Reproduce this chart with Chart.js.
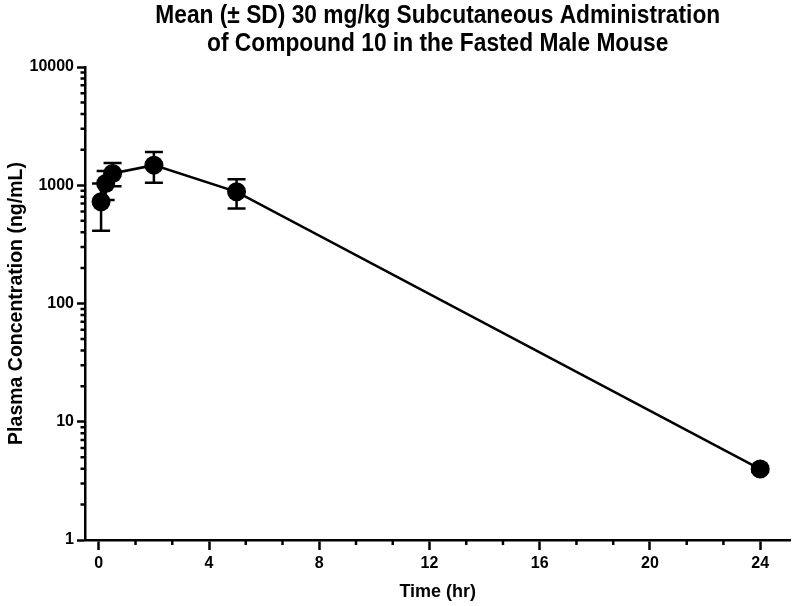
<!DOCTYPE html>
<html>
<head>
<meta charset="utf-8">
<script src="https://cdn.jsdelivr.net/npm/chart.js@4.4.1/dist/chart.umd.min.js"></script>
<style>
  html, body { margin: 0; padding: 0; background: #fff; }
  canvas { display: block; }
</style>
</head>
<body>
<canvas id="c" width="800" height="606"></canvas>
<script>
// ---- data ----
const timeHr = [0.083, 0.25, 0.5, 2, 5, 24];
const meanConc = [724, 1036, 1259, 1479, 880, 3.98];
const sdConc = [312, 285, 280, 430, 245, 0.2];
const xMajorTicks = [0, 4, 8, 12, 16, 20, 24];
const yMajorTicks = [1, 10, 100, 1000, 10000];
const titleLines = ['Mean (\u00B1 SD) 30 mg/kg Subcutaneous Administration', 'of Compound 10 in the Fasted Male Mouse'];

const FONT = '"Liberation Sans", Arial, Helvetica, sans-serif';

const titlePlugin = {
  id: 'customTitle',
  afterDraw(chart) {
    const ctx = chart.ctx;
    const a = chart.chartArea;
    const cx = (a.left + a.right) / 2;
    const sx = 0.91;
    ctx.save();
    ctx.fillStyle = '#000';
    ctx.font = 'bold 25px ' + FONT;
    ctx.textAlign = 'center';
    ctx.textBaseline = 'middle';
    ctx.translate(cx, 0);
    ctx.scale(sx, 1);
    ctx.fillText(titleLines[0], 0, 16);
    ctx.fillText(titleLines[1], 0, 44);
    ctx.restore();
  }
};

const minorTicksPlugin = {
  id: 'minorTicks',
  afterDraw(chart) {
    const ctx = chart.ctx;
    const xs = chart.scales.x, ys = chart.scales.y;
    const a = chart.chartArea;
    ctx.save();
    ctx.strokeStyle = '#000';
    ctx.lineWidth = 2.5;
    ctx.lineCap = 'butt';
    ctx.beginPath();
    for (let d = 1; d < 10000; d *= 10) {
      for (let m = 2; m <= 9; m++) {
        const py = ys.getPixelForValue(d * m);
        ctx.moveTo(a.left - 4.5, py);
        ctx.lineTo(a.left, py);
      }
    }
    for (let i = 0; i < xMajorTicks.length - 1; i++) {
      const step = (xMajorTicks[i + 1] - xMajorTicks[i]) / 3;
      for (let k = 1; k <= 2; k++) {
        const px = xs.getPixelForValue(xMajorTicks[i] + k * step);
        ctx.moveTo(px, a.bottom);
        ctx.lineTo(px, a.bottom + 5);
      }
    }
    ctx.stroke();
    ctx.restore();
  }
};

const errorBarPlugin = {
  id: 'errorBars',
  beforeDatasetsDraw(chart) {
    const ctx = chart.ctx;
    const xs = chart.scales.x, ys = chart.scales.y;
    ctx.save();
    ctx.strokeStyle = '#000';
    ctx.lineWidth = 2.5;
    ctx.beginPath();
    for (let i = 0; i < timeHr.length; i++) {
      const px = xs.getPixelForValue(timeHr[i]);
      const lo = Math.max(meanConc[i] - sdConc[i], 1e-3);
      const pyTop = ys.getPixelForValue(meanConc[i] + sdConc[i]);
      const pyBot = ys.getPixelForValue(lo);
      ctx.moveTo(px, pyTop); ctx.lineTo(px, pyBot);
      ctx.moveTo(px - 9, pyTop); ctx.lineTo(px + 9, pyTop);
      ctx.moveTo(px - 9, pyBot); ctx.lineTo(px + 9, pyBot);
    }
    ctx.stroke();
    ctx.restore();
  }
};

new Chart(document.getElementById('c'), {
  type: 'line',
  data: {
    datasets: [{
      data: timeHr.map((t, i) => ({ x: t, y: meanConc[i] })),
      borderColor: '#000',
      borderWidth: 2.5,
      backgroundColor: '#000',
      pointBackgroundColor: '#000',
      pointBorderColor: '#000',
      pointBorderWidth: 0,
      pointRadius: 9.5,
      tension: 0,
      clip: false
    }]
  },
  options: {
    responsive: false,
    animation: false,
    devicePixelRatio: 1,
    layout: { padding: { top: 67, right: 1, bottom: 0, left: 0 } },
    plugins: {
      legend: { display: false },
      title: { display: false },
      tooltip: { enabled: false }
    },
    scales: {
      x: {
        type: 'linear',
        min: -0.5,
        max: 25.1,
        afterFit(s) { s.height = 66; },
        afterBuildTicks(s) { s.ticks = xMajorTicks.map(v => ({ value: v })); },
        border: { display: true, color: '#000', width: 2.5 },
        grid: { display: true, drawOnChartArea: false, drawTicks: true, tickLength: 10, tickWidth: 2.5, tickColor: '#000' },
        ticks: {
          color: '#000',
          font: { family: FONT, size: 16, weight: 'bold' },
          padding: 4,
          maxRotation: 0,
          autoSkip: false
        },
        title: {
          display: true,
          text: 'Time (hr)',
          color: '#000',
          font: { family: FONT, size: 18, weight: 'bold' },
          padding: { top: 0, bottom: 3 }
        }
      },
      y: {
        type: 'logarithmic',
        min: 1,
        max: 10000,
        afterFit(s) { s.width = 85; },
        afterBuildTicks(s) { s.ticks = yMajorTicks.map(v => ({ value: v })); },
        border: { display: true, color: '#000', width: 2.5 },
        grid: { display: true, drawOnChartArea: false, drawTicks: true, tickLength: 8, tickWidth: 2.5, tickColor: '#000' },
        ticks: {
          color: '#000',
          font: { family: FONT, size: 16, weight: 'bold' },
          padding: 3,
          autoSkip: false,
          callback: (v) => String(v)
        },
        title: {
          display: true,
          text: 'Plasma Concentration (ng/mL)',
          color: '#000',
          font: { family: FONT, size: 19.5, weight: 'bold' },
          padding: { top: 5, bottom: 0 }
        }
      }
    }
  },
  plugins: [errorBarPlugin, minorTicksPlugin, titlePlugin]
});
</script>
</body>
</html>
